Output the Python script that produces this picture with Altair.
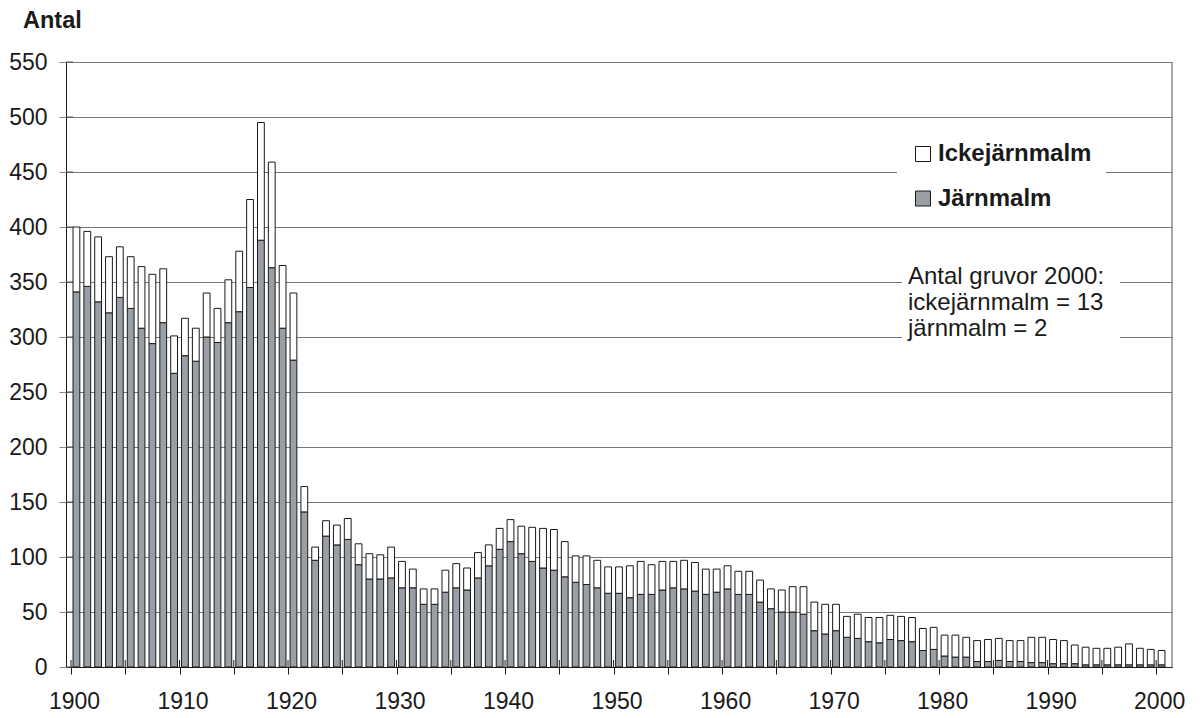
import altair as alt
import pandas as pd

# ---- data ----
years = list(range(1900, 2001))
jarnmalm = [
    341, 346, 332, 322, 336, 326, 308, 294, 313, 267,
    283, 278, 300, 295, 313, 323, 345, 388, 363, 308,
    279, 141, 97, 119, 111, 116, 93, 80, 80, 81,
    72, 72, 57, 57, 68, 72, 70, 81, 92, 107,
    114, 103, 96, 90, 88, 82, 77, 75, 72, 67,
    67, 63, 66, 66, 70, 72, 71, 69, 66, 68,
    71, 66, 66, 59, 53, 50, 50, 48, 33, 30,
    33, 27, 26, 23, 22, 25, 24, 23, 15, 16,
    10, 9, 9, 5, 5, 6, 5, 5, 4, 4,
    3, 3, 3, 2, 2, 2, 2, 2, 2, 2,
    2,
]
ickejarnmalm = [
    59, 50, 59, 51, 46, 47, 56, 63, 49, 34,
    34, 30, 40, 31, 39, 55, 80, 107, 96, 57,
    61, 23, 12, 14, 18, 19, 19, 23, 22, 28,
    24, 17, 14, 14, 20, 22, 20, 23, 19, 19,
    20, 25, 31, 36, 37, 32, 24, 26, 25, 24,
    24, 29, 30, 27, 26, 24, 26, 26, 23, 21,
    21, 21, 21, 20, 18, 20, 23, 25, 26, 27,
    24, 19, 22, 22, 23, 22, 22, 22, 20, 20,
    19, 20, 18, 19, 20, 20, 19, 19, 23, 23,
    22, 21, 17, 16, 15, 15, 16, 19, 15, 14,
    13,
]
series_names = ["Ickejärnmalm", "Järnmalm"]
series_colors = ["#ffffff", "#9a9fa5"]
x_tick_years = list(range(1900, 2001, 5))
y_ticks = list(range(0, 551, 50))
y_title = "Antal"
annotation = "Antal gruvor 2000:\nickejärnmalm = 13\njärnmalm = 2"

rows = []
for yr, j, i in zip(years, jarnmalm, ickejarnmalm):
    rows.append({"year": yr, "serie": "Järnmalm", "antal": j, "ord": 0})
    rows.append({"year": yr, "serie": "Ickejärnmalm", "antal": i, "ord": 1})
df = pd.DataFrame(rows)

W, H = 1106, 605
FONT = "Liberation Sans"
TXT = "#1a1a1a"

xscale = alt.Scale(domain=[1900, 2001], nice=False, zero=False)
yscale = alt.Scale(domain=[0, 550], nice=False, zero=True)

x_axis = alt.Axis(
    values=x_tick_years,
    labelExpr="datum.value % 10 == 0 ? '' + datum.value : ''",
    labelOffset=3, labelFlush=False, labelOverlap=False,
    grid=False, ticks=True, tickSize=7, tickColor=TXT,
    domain=True, domainColor=TXT, domainWidth=1,
    labelFont=FONT, labelFontSize=23, labelColor=TXT, labelPadding=16,
    title=None,
)
y_axis = alt.Axis(
    values=y_ticks, grid=True, gridColor="#777777", gridWidth=1,
    ticks=True, tickSize=7, tickColor="#888888",
    domain=True, domainColor=TXT, domainWidth=1,
    labelFont=FONT, labelFontSize=23, labelColor=TXT, labelPadding=12,
    title=None,
)

# cross ticks (part above x-axis / right of y-axis)
xt = alt.Chart(pd.DataFrame({"t": x_tick_years})).mark_rule(color=TXT, strokeWidth=1).encode(
    x=alt.X("t:Q", scale=xscale, axis=x_axis),
    y=alt.value(H - 7), y2=alt.value(H),
)
yt = alt.Chart(pd.DataFrame({"v": y_ticks})).mark_rule(color="#555555", strokeWidth=1).encode(
    y=alt.Y("v:Q", scale=yscale, axis=y_axis),
    x=alt.value(0), x2=alt.value(7),
)

bars = alt.Chart(df).transform_calculate(xc="datum.year + 0.5").mark_bar(
    size=6.8, stroke=TXT, strokeWidth=1
).encode(
    x=alt.X("xc:Q", scale=xscale, axis=x_axis),
    y=alt.Y("antal:Q", stack="zero", scale=yscale, axis=y_axis),
    color=alt.Color(
        "serie:N",
        scale=alt.Scale(domain=series_names, range=series_colors),
        legend=alt.Legend(
            orient="none", legendX=831, legendY=66, padding=14,
            fillColor="white", title=None,
            labelFont=FONT, labelFontSize=24, labelFontWeight="bold", labelColor=TXT,
            labelLimit=300, labelOffset=3,
            symbolType="square", symbolSize=225,
            symbolStrokeColor=TXT, symbolStrokeWidth=1,
            rowPadding=20.5,
        ),
    ),
    order=alt.Order("ord:Q"),
)

frame = alt.Chart(pd.DataFrame({"a": [0]})).mark_rule(color="#8a8a8a", strokeWidth=1.5).encode(
    x=alt.value(W), y=alt.value(0), y2=alt.value(H),
)

ann_df = pd.DataFrame({"t": [annotation]})
ann_box = alt.Chart(ann_df).mark_rect(fill="white").encode(
    x=alt.value(836), x2=alt.value(1054), y=alt.value(196), y2=alt.value(285),
)
ann_text = alt.Chart(ann_df).mark_text(
    align="left", baseline="top", font=FONT, fontSize=24, lineHeight=26,
    color=TXT, lineBreak="\n",
).encode(x=alt.value(842), y=alt.value(202.5), text="t:N")

title = alt.Chart(pd.DataFrame({"t": [y_title]})).mark_text(
    align="left", baseline="top", font=FONT, fontSize=23.5, fontWeight="bold", color=TXT,
).encode(x=alt.value(-43), y=alt.value(-53.5), text="t:N")

chart = alt.layer(yt, xt, bars, frame, ann_box, ann_text, title).properties(
    width=W, height=H,
    padding={"left": 58, "top": 54, "right": 22, "bottom": 47},
    autosize=alt.AutoSizeParams(type="none"),
    background="white",
).configure_view(stroke=None)

chart.save("out.html", embed_options={"renderer": "svg", "actions": False})
